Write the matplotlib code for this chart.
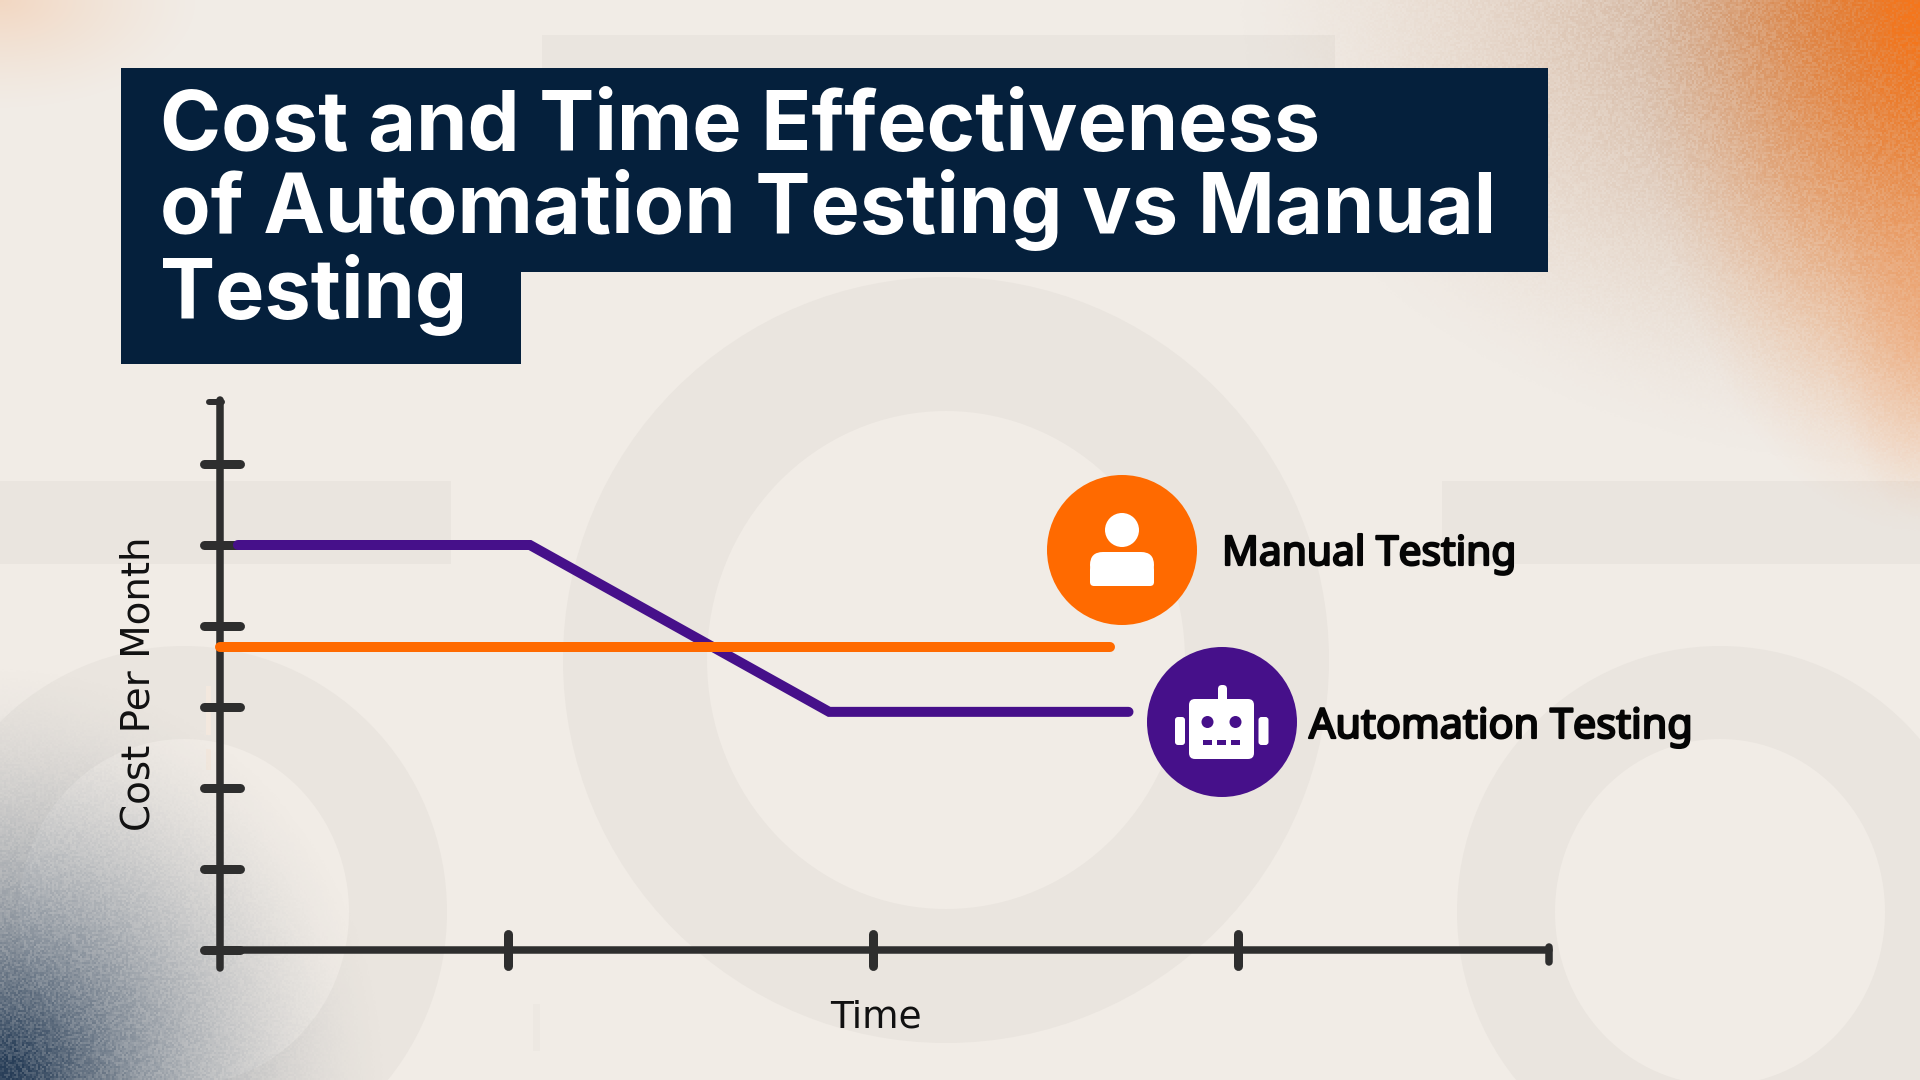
import numpy as np
import matplotlib
matplotlib.use("Agg")
import matplotlib.pyplot as plt
import matplotlib.patheffects as pe
from matplotlib.patches import Ellipse, Rectangle, Circle, FancyBboxPatch

# ---- data (chart units: x = time ticks, y = cost ticks) ----
time_ticks = [1, 2, 3]
cost_ticks = [0, 1, 2, 3, 4, 5, 6]
automation_x = [0.26, 1.06, 1.88, 2.70]
automation_y = [5.0, 5.0, 2.94, 2.94]
manual_x = [0.21, 2.65]
manual_y = [3.74, 3.74]
title_lines = ["Cost and Time Effectiveness", "of Automation Testing vs Manual", "Testing"]
x_label = "Time"
y_label = "Cost Per Month"
series_names = ["Manual Testing", "Automation Testing"]

NAVY = "#05203C"; BG = "#F1ECE6"; MARK = "#EAE5DF"; DARK = "#2E2E2E"
ORANGE = "#FF6A00"; PURPLE = "#46108A"
W, H = 1920, 1080

fig = plt.figure(figsize=(19.2, 10.8), dpi=100, facecolor=BG)
bg = fig.add_axes([0, 0, 1, 1], zorder=0)
bg.set_xlim(0, W); bg.set_ylim(H, 0); bg.axis("off")

# watermark letters
for cx, cy, ro, ri in [(946, 660, (383, 383), (239, 249)),
                       (184, 912, (263, 266), (165, 173)),
                       (1720, 912, (263, 266), (165, 173))]:
    bg.add_patch(Ellipse((cx, cy), 2*ro[0], 2*ro[1], fc=MARK, ec="none", zorder=1))
    bg.add_patch(Ellipse((cx, cy), 2*ri[0], 2*ri[1], fc=BG, ec="none", zorder=1.1))
for x0, y0, x1, y1 in [(0, 481, 451, 564), (1442, 481, 1920, 564), (542, 35, 1335, 120)]:
    bg.add_patch(Rectangle((x0, y0), x1-x0, y1-y0, fc=MARK, ec="none", zorder=1.2))
for x0, y0, x1, y1 in [(206, 686, 211, 735), (206, 749, 211, 770)]:
    bg.add_patch(Rectangle((x0, y0), x1-x0, y1-y0, fc="#F3E8DE", ec="none", zorder=1.3))
bg.add_patch(Rectangle((533, 1004), 7, 47, fc="#EDE8E2", ec="none", zorder=1.3))

# soft colour corners with a fine print-like grain (texture only, not chart data)
yy, xx = np.mgrid[0:H, 0:W].astype(float)
cell = np.floor(xx/2)*12.9898 + np.floor(yy/2)*78.233
grain = np.sin(cell)*43758.5453
grain = grain - np.floor(grain) - 0.5
def glow(rgb, dx, dy, a, b, gamma, peak=1.0, g=0.0):
    t = np.sqrt((dx/a)**2 + (dy/b)**2)
    al = peak*np.clip(1-t, 0, 1)**gamma
    al = np.clip(al*(1 + g*grain), 0, 1)
    img = np.zeros((H, W, 4))
    img[..., 0], img[..., 1], img[..., 2] = [c/255 for c in rgb]
    img[..., 3] = al
    bg.imshow(img, extent=(0, W, H, 0), zorder=2, interpolation="nearest", aspect="auto")
glow((190, 140, 105), W-xx, yy, 700, 480, 1.6, 1.0, 0.4)
glow((244, 118, 28), W-xx, yy, 290, 540, 1.4, 1.0, 0.3)
glow((240, 150, 90), W-xx, yy-320, 90, 200, 1.2, 0.4, 0.2)
glow((245, 190, 150), xx, yy, 200, 110, 1.3, 0.45)
glow((40, 62, 88), xx, H-yy, 400, 430, 1.8, 1.0, 0.3)
bg.set_xlim(0, W); bg.set_ylim(H, 0)

# title banner
bg.add_patch(Rectangle((121, 68), 1427, 204, fc=NAVY, ec="none", zorder=3))
bg.add_patch(Rectangle((121, 272), 400, 92, fc=NAVY, ec="none", zorder=3))
for line, base in zip(title_lines, [150, 233, 318]):
    bg.text(160, base, line, color="white", fontsize=59.6, family="Inter", weight="bold",
            ha="left", va="baseline", zorder=4)

# chart
L, R, B, T = 220, 1549, 950, 400
ax = fig.add_axes([L/W, 1-B/H, (R-L)/W, (B-T)/H], zorder=2)
ax.patch.set_alpha(0); ax.axis("off")
px_x = 1/365.0
px_y = 1/81.0
x0 = 1 - (508-L)*px_x
x1 = x0 + (R-L)*px_x
ax.set_xlim(x0, x1); ax.set_ylim(0, (B-T)*px_y)
lw = 7.5*0.72; tlw = 9*0.72
kw = dict(color=DARK, solid_capstyle="round", clip_on=False)
ymax = ax.get_ylim()[1]
ax.plot([x0, x0], [-18*px_y, ymax], lw=lw, zorder=2, **kw)
ax.plot([x0, x1], [0, 0], lw=lw, zorder=2, **kw)
for v in cost_ticks:
    ax.plot([x0-16*px_x, x0+20*px_x], [v, v], lw=tlw, zorder=2, **kw)
ax.plot([x0-11*px_x, x0+2*px_x], [ymax-2*px_y]*2, lw=6*0.72, zorder=2, **kw)
for v in time_ticks:
    ax.plot([v, v], [-16*px_y, 16*px_y], lw=9*0.72, zorder=2, **kw)
ax.plot([x1, x1], [-12*px_y, 3*px_y], lw=lw, zorder=2, **kw)
ax.plot(automation_x, automation_y, color=PURPLE, lw=10*0.72, zorder=3, solid_capstyle="round",
        solid_joinstyle="miter", clip_on=False)
ax.plot(manual_x, manual_y, color=ORANGE, lw=10*0.72, zorder=4, solid_capstyle="round", clip_on=False)

# labels
fg = fig.add_axes([0, 0, 1, 1], zorder=3)
fg.set_xlim(0, W); fg.set_ylim(H, 0); fg.axis("off"); fg.patch.set_alpha(0)
fg.text(139, 684, y_label, rotation=90, fontsize=28, family="DejaVu Sans", color="#111111",
        ha="center", va="center")
fg.text(876, 1018, x_label, fontsize=27, family="DejaVu Sans", color="#111111", ha="center", va="center")
bold = [pe.withStroke(linewidth=1.6, foreground="#050505")]
fg.text(1222, 565, series_names[0], fontsize=29.3, family="Noto Sans", color="#050505",
        ha="left", va="baseline", path_effects=bold)
fg.text(1309, 738, series_names[1], fontsize=29.8, family="Noto Sans", color="#050505",
        ha="left", va="baseline", path_effects=bold)

# icons
fg.add_patch(Circle((1122, 550), 75, fc=ORANGE, ec="none"))
fg.add_patch(Circle((1122, 530), 17, fc="white", ec="none"))
fg.add_patch(FancyBboxPatch((1090, 552), 64, 26, boxstyle="round,pad=0,rounding_size=13", fc="white", ec="none"))
fg.add_patch(FancyBboxPatch((1090, 566), 64, 20, boxstyle="round,pad=0,rounding_size=4", fc="white", ec="none"))
fg.add_patch(Circle((1222, 722), 75, fc=PURPLE, ec="none"))
fg.add_patch(FancyBboxPatch((1189, 699), 65, 60, boxstyle="round,pad=0,rounding_size=6", fc="white", ec="none"))
fg.add_patch(FancyBboxPatch((1218, 685), 9, 20, boxstyle="round,pad=0,rounding_size=4", fc="white", ec="none"))
for x in (1175, 1258.5):
    fg.add_patch(FancyBboxPatch((x, 717), 10, 28, boxstyle="round,pad=0,rounding_size=3", fc="white", ec="none"))
for x in (1207.5, 1235.5):
    fg.add_patch(Circle((x, 722), 6, fc=PURPLE, ec="none"))
for x in (1203, 1217, 1231):
    fg.add_patch(Rectangle((x, 740), 9, 5, fc=PURPLE, ec="none"))

fig.savefig("out.png", dpi=100, facecolor=BG)
